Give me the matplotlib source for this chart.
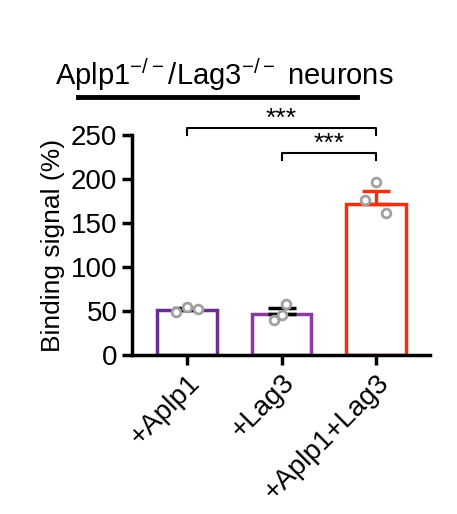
import matplotlib
matplotlib.use("Agg")
import matplotlib.pyplot as plt
from matplotlib.lines import Line2D

categories = ["+Aplp1", "+Lag3", "+Aplp1+Lag3"]
means = [51, 47, 172]
errors = [3, 7, 14]
points = [[49, 55, 52], [40, 58, 46], [197, 176, 161]]
jitter = [[-0.12, 0.0, 0.12], [-0.08, 0.05, 0.0], [0.0, -0.12, 0.1]]
colors = ["#6b2d8f", "#8b3a9f", "#f2300f"]

plt.rcParams['font.family'] = ['Liberation Sans', 'DejaVu Sans']
plt.rcParams['mathtext.default'] = 'regular'
fig = plt.figure(figsize=(4.57, 5.14), dpi=100)
ax = fig.add_axes([0.289, 0.309, 0.652, 0.428])
x = range(len(categories))
for i in x:
    ax.bar(i, means[i], width=0.63, facecolor="white", edgecolor=colors[i], linewidth=2.5, zorder=2)
    ax.errorbar(i, means[i], yerr=[[0], [errors[i]]], color="black" if i < 2 else colors[i],
                capsize=10, capthick=2.5, elinewidth=2.5, zorder=3)
    ax.scatter([i + j for j in jitter[i]], points[i], s=40, facecolor="white",
               edgecolor="#a0a0a0", linewidth=2, zorder=4)
ax.set_xlim(-0.58, 2.57)
ax.set_ylim(0, 250)
ax.set_yticks([0, 50, 100, 150, 200, 250])
ax.set_xticks(list(x))
ax.set_xticklabels(categories, rotation=45, ha="right", rotation_mode="anchor", fontsize=20)
ax.tick_params(axis="y", labelsize=20, width=2.5, length=7)
ax.tick_params(axis="x", width=2.5, length=7)
for s in ["top", "right"]:
    ax.spines[s].set_visible(False)
for s in ["left", "bottom"]:
    ax.spines[s].set_linewidth(2.5)
ax.set_ylabel("Binding signal (%)", fontsize=19)

def bracket(x1, x2, y, h=8):
    ax.plot([x1, x1, x2, x2], [y - h, y, y, y - h], color="black", lw=1.5, clip_on=False)
    ax.text((x1 + x2) / 2, y - 3, "***", ha="center", va="bottom", fontsize=19)

bracket(0, 2, 258)
bracket(1, 2, 230)

fig.text(0.49, 0.855, "Aplp1$^{-/-}$/Lag3$^{-/-}$ neurons", ha="center", va="center", fontsize=21)
fig.add_artist(Line2D([78 / 457, 357 / 457], [1 - 97 / 514] * 2, color="black", lw=3.5))
fig.savefig("out.png", dpi=100)
